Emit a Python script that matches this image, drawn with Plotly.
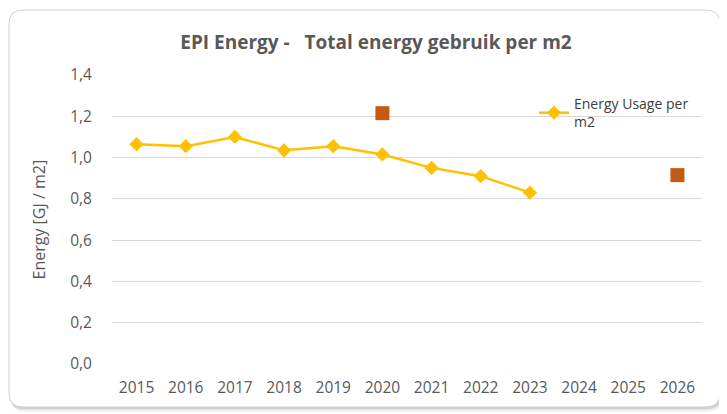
import plotly.graph_objects as go

years = ["2015", "2016", "2017", "2018", "2019", "2020", "2021", "2022", "2023", "2024", "2025", "2026"]
usage_years = ["2015", "2016", "2017", "2018", "2019", "2020", "2021", "2022", "2023"]
usage = [1.065, 1.055, 1.10, 1.035, 1.055, 1.015, 0.95, 0.91, 0.83]
target_years = ["2020", "2026"]
targets = [1.215, 0.915]
y_ticks = [0.0, 0.2, 0.4, 0.6, 0.8, 1.0, 1.2, 1.4]
y_labels = ["0,0", "0,2", "0,4", "0,6", "0,8", "1,0", "1,2", "1,4"]

FONT = "'Open Sans', sans-serif"
GREY = "#595959"

# the page body adds an 8px offset, so the figure is 719x406 and sits at (8, 8)
W, H = 719, 406
OFF = 8
ML, MR, MT, MB = 104, 25, 67, 50
PW, PH = W - ML - MR, H - MT - MB

fig = go.Figure()
fig.add_trace(go.Scatter(
    x=usage_years, y=usage, mode="lines+markers", name="Energy Usage per<br>m2",
    line=dict(color="#FFC000", width=2.5),
    marker=dict(symbol="diamond", size=11, color="#FFC000"),
))
fig.add_trace(go.Scatter(
    x=target_years, y=targets, mode="markers", name="Target", showlegend=False,
    marker=dict(symbol="square", size=14, color="#C55A11", line=dict(width=0)),
))


def to_paper(x, y):
    # reference-image pixel -> plot-area paper fraction
    x, y = x - OFF, y - OFF
    return (x - ML) / PW, (H - MB - y) / PH


def card(x0, y0, x1, y1, r):
    def P(x, y):
        a, b = to_paper(x, y)
        return f"{a:.5f},{b:.5f}"
    return (f"M{P(x0+r,y0)} L{P(x1-r,y0)} Q{P(x1,y0)} {P(x1,y0+r)} L{P(x1,y1-r)} "
            f"Q{P(x1,y1)} {P(x1-r,y1)} L{P(x0+r,y1)} Q{P(x0,y1)} {P(x0,y1-r)} "
            f"L{P(x0,y0+r)} Q{P(x0,y0)} {P(x0+r,y0)} Z")


shapes = []
for off, col in [(5, "rgba(0,0,0,0.04)"), (3.5, "rgba(0,0,0,0.06)"), (2, "rgba(0,0,0,0.09)")]:
    shapes.append(dict(type="path", xref="paper", yref="paper", layer="below",
                       path=card(9 + off * 0.4, 10 + off, 720 + off * 0.4, 407 + off, 14),
                       fillcolor=col, line=dict(width=0)))
shapes.append(dict(type="path", xref="paper", yref="paper", layer="below",
                   path=card(9, 10, 720, 407, 14),
                   fillcolor="white", line=dict(color="#d0d0d0", width=1)))

fig.update_layout(
    width=W, height=H, autosize=False,
    margin=dict(l=ML, r=MR, t=MT, b=MB, autoexpand=False),
    paper_bgcolor="white", plot_bgcolor="rgba(0,0,0,0)",
    title=dict(text="<b>EPI Energy -   Total energy gebruik per m2</b>",
               x=(376 - OFF) / W, xanchor="center", xref="container",
               y=1 - (42 - OFF) / H, yanchor="middle", yref="container",
               font=dict(family=FONT, size=19, color=GREY)),
    font=dict(family=FONT, color=GREY),
    showlegend=True,
    legend=dict(x=(534 - OFF) / W, y=1 - (88 - OFF) / H, xref="container", yref="container",
                xanchor="left", yanchor="top",
                font=dict(family=FONT, size=14, color="#404040"), bgcolor="rgba(0,0,0,0)",
                itemwidth=30, borderwidth=0),
    xaxis=dict(type="category", categoryorder="array", categoryarray=years,
               range=[-0.5, 11.5], showgrid=False, zeroline=False, showline=False,
               tickfont=dict(family=FONT, size=15.5, color=GREY), ticks="",
               ticklabelstandoff=12, automargin=False),
    yaxis=dict(range=[0, 1.4], tickvals=y_ticks, ticktext=y_labels, showgrid=True,
               gridcolor="#d9d9d9", gridwidth=1, zeroline=False, showline=False,
               tickfont=dict(family=FONT, size=15.5, color=GREY), ticks="",
               ticklabelstandoff=19, automargin=False),
    annotations=[dict(text="Energy [GJ / m2]", textangle=-90, xref="paper", yref="paper",
                      x=0, y=0.5, xshift=-74, xanchor="center", yanchor="middle",
                      showarrow=False, font=dict(family=FONT, size=16, color=GREY))],
    shapes=shapes,
)

fig.write_html("out.html")
